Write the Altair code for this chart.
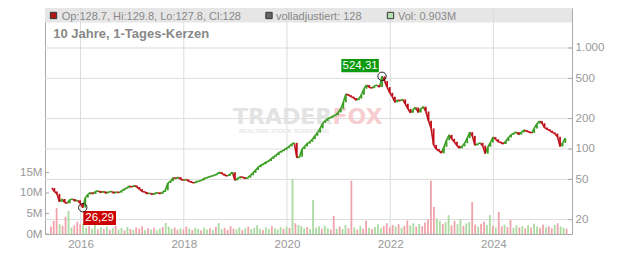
import altair as alt
import pandas as pd

# ---------------- data ----------------
# closing prices read every ~18 days from the picture (first 2015-06-12, last 2025-05-24)
price_start, price_end = "2015-06-12", "2025-05-24"
price_close = [
    41, 38, 36, 30, 32, 29.5, 29, 31.5, 32, 30.5,
    31, 29, 26.29, 33, 35.5, 37, 36, 38, 38.5, 37,
    38, 36.5, 37.5, 38, 36.5, 37.5, 37, 38.5, 40, 41,
    43, 42, 43.5, 42, 40, 38, 37.5, 36, 36.5, 35.5,
    36.5, 37, 36, 37.5, 39, 46, 48, 52, 51, 52.5,
    50, 49, 50, 48, 47, 46, 47.5, 48, 49, 51,
    52, 53, 54, 55, 56.5, 59, 57, 55, 54, 56,
    59, 49, 51, 53, 52.5, 51, 52, 55, 58, 62,
    66, 69, 71, 74, 76, 80, 84, 87, 92, 95,
    98, 102, 106, 112, 115, 82, 84, 100, 106, 113,
    118, 125, 135, 145, 160, 181, 190, 200, 205, 212,
    217, 230, 250, 290, 350, 340, 330, 320, 305, 315,
    345, 395, 430, 410, 400, 420, 430, 410, 524.31, 470,
    410, 360, 330, 290, 305, 300, 310, 280, 250, 228,
    245, 258, 230, 250, 262, 235, 190, 160, 110, 100,
    96, 91, 105, 122, 138, 126, 118, 108, 102, 106,
    114, 128, 147, 135, 109, 112, 115, 108, 90, 105,
    116, 131, 125, 118, 116, 112, 120, 130, 138, 143,
    147, 139, 146, 154, 150, 147, 144, 160, 178, 189,
    180, 163, 157, 152, 146, 142, 132, 106, 115, 128,
]

vol_start, vol_end = "2015-06-05", "2025-06-02"
vol_millions = [
    1.8, 3.2, 6.3, 2.4, 2.0, 4.2, 5.6, 1.6, 2.1, 3.0,
    2.4, 2.6, 1.5, 1.9, 1.3, 2.2, 1.1, 1.6, 1.2, 1.8,
    1.0, 1.4, 2.0, 1.1, 1.5, 0.9, 1.7, 1.2, 1.0, 1.6,
    1.3, 1.9, 1.0, 1.4, 1.1, 1.5, 0.9, 1.3, 1.7, 2.7,
    1.8, 1.2, 1.6, 1.0, 1.4, 1.1, 1.8, 1.3, 1.0, 1.5,
    1.2, 0.9, 1.6, 1.1, 1.4, 1.0, 1.7, 2.7, 1.2, 1.5,
    1.0, 1.9, 1.3, 1.1, 1.6, 1.0, 1.4, 1.8, 1.2, 1.5,
    2.1, 1.3, 1.0, 1.6, 1.2, 1.9, 1.4, 1.1, 1.7, 1.3,
    1.8, 1.5, 13.4, 2.6, 2.2, 1.9, 1.4, 1.7, 1.2, 8.3,
    1.5, 1.9, 1.3, 2.0, 1.4, 1.1, 4.4, 1.3, 1.8, 1.2,
    2.2, 1.4, 13.0, 1.6, 1.1, 1.9, 1.3, 3.2, 1.5, 1.2,
    1.7, 2.4, 1.4, 1.9, 2.6, 1.6, 2.2, 1.8, 2.4, 1.5,
    2.0, 3.3, 2.1, 2.6, 1.8, 2.4, 1.9, 2.8, 3.6, 13.0,
    6.6, 3.8, 3.2, 2.5, 2.9, 4.6, 2.1, 3.2, 2.4, 3.6,
    2.0, 2.6, 2.9, 7.8, 2.3, 1.8, 2.5, 3.0, 2.2, 4.6,
    2.0, 1.6, 5.4, 1.9, 2.3, 1.7, 3.4, 1.5, 2.1, 1.6,
    1.9, 1.4, 2.2, 1.6, 2.5, 1.8, 1.5, 2.3, 1.6, 1.9,
    1.4, 2.2, 2.6, 1.8, 1.5, 1.3,
]
vol_dir = list(
    "dddudduudd" "duuduududu" "duduududud" "ddududuudu" "uudduddudu"
    "uduududuud" "ddduududuu" "uuduuduuud" "ududuuuduu" "uuduuddudu"
    "uddududdud" "uuuddddudu" "dduududddd" "duuduudduu" "duuddudduu"
    "duddudduud" "ududuuddud" "duduud"
)
year_ticks = ["2016-01-01", "2018-01-01", "2020-01-01", "2022-01-01", "2024-01-01"]
price_ticks = [20, 50, 100, 200, 500, 1000]
vol_ticks = [0, 5, 10, 15]

# ---------------- frames ----------------
pdf = pd.DataFrame({
    "d1": pd.date_range(price_start, price_end, periods=len(price_close)).strftime("%Y-%m-%d"),
    "v1": price_close,
})
pdf["d0"] = pdf["d1"].shift(1).fillna(pdf["d1"])
pdf["v0"] = pdf["v1"].shift(1).fillna(pdf["v1"])
pdf["pdir"] = ["u" if c >= o else "d" for o, c in zip(pdf["v0"], pdf["v1"])]

hi = pdf.loc[pdf["v1"].idxmax()]
lo = pdf.loc[pdf["v1"].idxmin()]
peak = {"d": hi["d1"], "v": hi["v1"], "t": f"{hi['v1']:.2f}".replace(".", ",")}
low = {"d": lo["d1"], "v": lo["v1"], "t": f"{lo['v1']:.2f}".replace(".", ",")}

vdf = pd.DataFrame({
    "d": pd.date_range(vol_start, vol_end, periods=len(vol_millions)).strftime("%Y-%m-%d"),
    "v": vol_millions,
    "vdir": vol_dir,
})
one = pd.DataFrame({"a": [0]})

W, H = 527, 226
FONT = "Liberation Sans"
GRID = "#dcdcdc"
AX = "#aaaaaa"
LBL = "#999999"

xscale = alt.Scale(domain=[alt.DateTime(year=2015, month=5, date=30),
                           alt.DateTime(year=2025, month=6, date=5)])
pscale = alt.Scale(type="log", domain=[14.4, 2489], nice=False)
vscale = alt.Scale(domain=[0, 55.1], nice=False, zero=True)
xaxis = alt.Axis(values=[alt.DateTime(year=y, month=1, date=1) for y in (2016, 2018, 2020, 2022, 2024)],
                 format="%Y", grid=False, tickSize=0, labelPadding=4, domainColor=AX,
                 labelColor=LBL, labelFontSize=11.6, labelFont=FONT, title=None)
dircolor = alt.Color("pdir:N", scale=alt.Scale(domain=["u", "d"], range=["#3a9e22", "#c0101a"]), legend=None)
volcolor = alt.Color("vdir:N", scale=alt.Scale(domain=["u", "d"], range=["#a9dba0", "#f0a3ab"]), legend=None)

band = alt.Chart(one).mark_rect(color="#e6e6e6").encode(
    x=alt.value(0), x2=alt.value(W), y=alt.value(0), y2=alt.value(14.5))

vgrid = alt.Chart(pd.DataFrame({"d": year_ticks})).mark_rule(color=GRID).encode(
    x=alt.X("d:T", scale=xscale, axis=xaxis))

hgrid = alt.Chart(pd.DataFrame({"p": price_ticks})).mark_rule(color=GRID).encode(
    y=alt.Y("p:Q", scale=pscale, axis=alt.Axis(
        orient="right", values=price_ticks, grid=False, tickSize=0, labelPadding=3,
        domainColor=AX, labelColor=LBL, labelFontSize=11.6, labelFont=FONT, title=None,
        labelExpr="datum.value == 1000 ? '1.000' : datum.label")))

rticks = alt.Chart(pd.DataFrame({"p": price_ticks})).mark_rule(color=AX).encode(
    y=alt.Y("p:Q", scale=pscale, axis=None), x=alt.value(W - 4), x2=alt.value(W))

watermark = alt.layer(
    alt.Chart(one).mark_text(text="TRADER", font="DejaVu Sans", fontWeight="bold", fontSize=22,
                             color="#e3e3e3", align="left", baseline="alphabetic").encode(
        x=alt.value(188), y=alt.value(115.5)),
    alt.Chart(one).mark_text(text="FOX", font="DejaVu Sans", fontWeight="bold", fontSize=22,
                             color="#f7cdd1", align="left", baseline="alphabetic").encode(
        x=alt.value(287.5), y=alt.value(115.5)),
    alt.Chart(one).mark_text(text="REALTIME STOCK SCREENING", font=FONT, fontWeight="bold", fontSize=6,
                             color="#e6e6e6", align="left", baseline="alphabetic").encode(
        x=alt.value(194), y=alt.value(125)),
)

vol = alt.Chart(vdf).mark_bar(width=1.8).encode(
    x=alt.X("d:T", scale=xscale, axis=xaxis),
    y=alt.Y("v:Q", scale=vscale, axis=alt.Axis(
        orient="left", values=vol_ticks, grid=False, tickSize=0, labelPadding=3,
        domainColor=AX, labelColor=LBL, labelFontSize=11.6, labelFont=FONT, title=None,
        labelExpr="datum.value + 'M'")),
    color=volcolor)

lticks = alt.Chart(pd.DataFrame({"v": vol_ticks})).mark_rule(color=AX).encode(
    y=alt.Y("v:Q", scale=vscale, axis=None), x=alt.value(0), x2=alt.value(4))

price = alt.Chart(pdf).mark_rule(strokeWidth=1.6).encode(
    x=alt.X("d0:T", scale=xscale, axis=xaxis), x2="d1:T",
    y=alt.Y("v0:Q", scale=pscale, axis=None), y2="v1:Q",
    color=dircolor)

# candle bodies: vertical stroke from previous close to close at each date
bodies = alt.Chart(pdf).mark_rule(strokeWidth=1.8).encode(
    x=alt.X("d1:T", scale=xscale, axis=xaxis),
    y=alt.Y("v0:Q", scale=pscale, axis=None), y2="v1:Q",
    color=dircolor)

def annot(p, fill, x0, x1, y0, y1):
    df = pd.DataFrame([p])
    base = alt.Chart(df)
    box = base.mark_rect(color=fill, xOffset=x0, x2Offset=x1, yOffset=y0, y2Offset=y1).encode(
        x=alt.X("d:T", scale=xscale, axis=xaxis), x2="d:T",
        y=alt.Y("v:Q", scale=pscale, axis=None), y2="v:Q")
    txt = base.mark_text(color="white", font=FONT, fontSize=11.5, dx=(x0 + x1) / 2,
                         dy=(y0 + y1) / 2 + 0.5, align="center", baseline="middle").encode(
        x=alt.X("d:T", scale=xscale, axis=xaxis),
        y=alt.Y("v:Q", scale=pscale, axis=None), text="t:N")
    circ = base.mark_point(shape="circle", size=70, filled=False, color="#222222", strokeWidth=1,
                           opacity=1).encode(
        x=alt.X("d:T", scale=xscale, axis=xaxis),
        y=alt.Y("v:Q", scale=pscale, axis=None))
    return [box, txt, circ]

ann = annot(peak, "#0b9a0b", -40.7, -3.2, -17.4, -4.0) + annot(low, "#cc0000", 0.5, 33.2, 3.4, 17.4)

def htext(s, x, y, size=11, bold=False, color="#888888"):
    return alt.Chart(one).mark_text(text=s, font=FONT, fontSize=size, fontWeight="bold" if bold else "normal",
                                    color=color, align="left", baseline="alphabetic").encode(
        x=alt.value(x), y=alt.value(y))

def hsquare(x, fill):
    return alt.Chart(one).mark_square(size=40, color=fill, stroke="#333333", strokeWidth=1,
                                      filled=True, opacity=1).encode(x=alt.value(x), y=alt.value(7.5))

header = [
    hsquare(8.5, "#b01818"), htext("Op:128.7, Hi:129.8, Lo:127.8, Cl:128", 16.7, 11.5),
    hsquare(224, "#666666"), htext("volladjustiert: 128", 231, 11.5),
    hsquare(345.5, "#b3e0b0"), htext("Vol: 0.903M", 353, 11.5),
    htext("10 Jahre, 1-Tages-Kerzen", 8.3, 29.7, size=13, bold=True),
]

chart = alt.layer(
    band, vgrid, hgrid, watermark, vol, lticks, rticks, price, bodies, *ann, *header
).resolve_scale(y="independent", color="independent").properties(
    width=W, height=H,
    autosize=alt.AutoSizeParams(type="none"),
    padding={"left": 45, "top": 8, "right": 60, "bottom": 19},
    background="white",
).configure_view(stroke="#cccccc").configure(font=FONT)

chart.save("out.html", embed_options={"renderer": "svg", "actions": False})
